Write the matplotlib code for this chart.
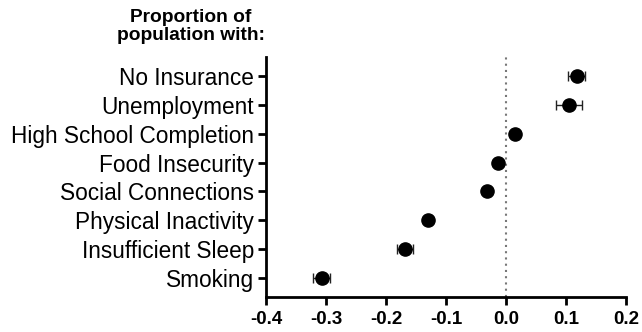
import numpy as np
import matplotlib
matplotlib.use("Agg")
import matplotlib.pyplot as plt

plt.rcParams['font.family'] = ['Liberation Sans', 'DejaVu Sans']

# --- data (top to bottom as in the chart)
labels = ['No Insurance', 'Unemployment', 'High School Completion', 'Food Insecurity',
          'Social Connections', 'Physical Inactivity', 'Insufficient Sleep', 'Smoking']
estimates = [0.118, 0.105, 0.015, -0.013, -0.031, -0.130, -0.168, -0.307]
errors = [0.014, 0.022, 0.0, 0.0, 0.0, 0.007, 0.013, 0.014]

ypos = np.arange(len(labels))[::-1]

fig = plt.figure(figsize=(6.42, 3.32), dpi=100)
ax = fig.add_axes([0.4143, 0.1054, 0.5607, 0.7229])

ax.axvline(0, color='#777777', linestyle=(0, (1, 2)), linewidth=1.5, zorder=1)
ax.errorbar(estimates, ypos, xerr=errors, fmt='o', color='black', markersize=9.5,
            ecolor='#222222', elinewidth=1, capsize=3.5, capthick=1, zorder=3)

ax.set_xlim(-0.4, 0.2)
ax.set_ylim(-0.67, 7.67)
ax.set_xticks(np.arange(-0.4, 0.21, 0.1))
ax.set_xticklabels(['-0.4', '-0.3', '-0.2', '-0.1', '0.0', '0.1', '0.2'],
                   fontsize=13.5, fontweight='bold')
ax.set_yticks(ypos)
ax.set_yticklabels(labels, fontsize=16.3)

for side in ['top', 'right']:
    ax.spines[side].set_visible(False)
for side in ['left', 'bottom']:
    ax.spines[side].set_linewidth(2)
ax.tick_params(axis='both', width=2, length=6, direction='out')
ax.tick_params(axis='x', pad=4)
ax.tick_params(axis='y', pad=2.5)

fig.text(0.297, 0.92, 'Proportion of\npopulation with:', ha='center', va='center',
         fontsize=13.8, fontweight='bold', linespacing=1.05)

fig.savefig('out.png', dpi=100)
